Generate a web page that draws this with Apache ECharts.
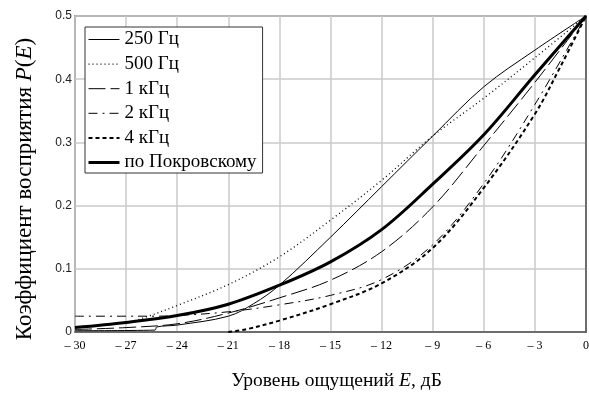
<!DOCTYPE html>
<html>
<head>
<meta charset="utf-8">
<script src="https://cdn.jsdelivr.net/npm/echarts@6/dist/echarts.min.js"></script>
<style>
  html, body { margin: 0; padding: 0; background: #fff; }
  #chart { width: 589px; height: 398px; }
</style>
</head>
<body>
<div id="chart"></div>
<script>
// values (E in dB, P(E))
const gridE = [-30, -27, -24, -21, -18, -15, -12, -9, -6, -3, 0];

const e250 = [-30, -25.3, -25.2, -24, -21, -19.5, -18, -15, -12, -9, -6, -3, 0];
const p250 = [0.002, 0.003, 0.008, 0.011, 0.025, 0.045, 0.074, 0.15, 0.23, 0.31, 0.388, 0.446, 0.5];

const e500 = [-30, -27, -25.8, -24, -21, -18, -15, -12, -9, -6, -3, 0];
const p500 = [0.008, 0.015, 0.024, 0.042, 0.075, 0.119, 0.177, 0.24, 0.31, 0.37, 0.434, 0.5];

const p1k = [0.004, 0.007, 0.013, 0.03, 0.054, 0.082, 0.127, 0.198, 0.295, 0.395, 0.5];

const e2k = [-30, -27, -25.5, -24, -21, -18, -15, -12, -9, -6, -3, 0];
const p2k = [0.025, 0.025, 0.025, 0.026, 0.032, 0.043, 0.058, 0.083, 0.138, 0.235, 0.36, 0.5];

const e4k = [-21, -20, -18, -15, -12, -9, -6, -3, -1.5, 0];
const p4k = [0, 0.004, 0.018, 0.044, 0.077, 0.133, 0.228, 0.345, 0.42, 0.5];

const pPokr = [0.007, 0.015, 0.026, 0.044, 0.074, 0.111, 0.162, 0.234, 0.312, 0.407, 0.5];

const names = ['250 Гц', '500 Гц', '1 кГц', '2 кГц', '4 кГц', 'по Покровскому'];
const widths = [1, 1.3, 1, 1, 2, 3];
const dashes = ['solid', [1, 3], [17, 5], [9, 5, 2, 5], [4, 3], 'solid'];

const serif = "'Liberation Serif', 'DejaVu Serif', serif";

const pairs = (xs, ys) => xs.map((x, i) => [x, ys[i]]);

const chart = echarts.init(document.getElementById('chart'));

const line = (i, data) => ({
  name: names[i],
  type: 'line',
  data,
  showSymbol: false,
  symbol: 'none',
  smooth: 0.35,
  lineStyle: { color: '#000', width: widths[i], type: dashes[i] },
  itemStyle: { color: '#000' },
  emphasis: { disabled: true },
  z: 3
});

chart.setOption({
  animation: false,
  grid: {
    left: 75,
    right: 3,
    top: 16,
    bottom: 66,
    show: true,
    borderColor: '#555',
    borderWidth: 1.5,
    outerBoundsMode: 'none'
  },
  legend: {
    orient: 'vertical',
    left: 85,
    top: 27,
    padding: [3, 6, 1, 2],
    itemWidth: 31,
    itemHeight: 14,
    itemGap: 5.6,
    backgroundColor: '#fff',
    borderColor: '#333',
    borderWidth: 1,
    borderRadius: 0,
    selectedMode: false,
    itemStyle: { opacity: 0 },
    textStyle: { fontFamily: serif, fontSize: 19, lineHeight: 19, color: '#000' },
    data: names.map((n, i) => ({
      name: n,
      lineStyle: { width: widths[i], type: dashes[i], color: '#000' }
    }))
  },
  xAxis: {
    type: 'value',
    min: -30,
    max: 0,
    interval: 3,
    name: 'Уровень ощущений {i|E}, дБ',
    nameLocation: 'middle',
    nameGap: 39,
    nameTextStyle: {
      fontFamily: serif, fontSize: 19.5, color: '#000',
      padding: [0, 0, 0, 12],
      rich: { i: { fontFamily: serif, fontSize: 19.5, fontStyle: 'italic', color: '#000' } }
    },
    axisLine: { show: true, lineStyle: { color: '#555', width: 1.5 } },
    axisTick: { show: false },
    axisLabel: {
      margin: 8,
      fontFamily: serif,
      fontSize: 12,
      color: '#000',
      formatter: v => (v < 0 ? '– ' + Math.abs(v) : '0')
    },
    splitLine: { show: true, lineStyle: { color: '#cacaca', width: 1.5 } }
  },
  yAxis: {
    type: 'value',
    min: 0,
    max: 0.5,
    interval: 0.1,
    axisLine: { show: true, lineStyle: { color: '#555', width: 1.5 } },
    axisTick: { show: false },
    axisLabel: {
      margin: 3,
      fontFamily: 'Liberation Sans',
      fontSize: 12,
      color: '#222',
      formatter: v => (v === 0 ? '0' : v.toFixed(1))
    },
    splitLine: { show: true, lineStyle: { color: '#cacaca', width: 1.5 } }
  },
  graphic: [
    {
      type: 'text',
      x: 25,
      y: 189,
      rotation: Math.PI / 2,
      style: {
        text: 'Коэффициент восприятия {i|P}({i|E})',
        fontFamily: serif,
        fontSize: 23,
        fill: '#000',
        align: 'center',
        verticalAlign: 'middle',
        rich: { i: { fontFamily: serif, fontSize: 23, fontStyle: 'italic', fill: '#000' } }
      }
    }
  ],
  series: [
    line(0, pairs(e250, p250)),
    line(1, pairs(e500, p500)),
    line(2, pairs(gridE, p1k)),
    line(3, pairs(e2k, p2k)),
    line(4, pairs(e4k, p4k)),
    line(5, pairs(gridE, pPokr))
  ]
});
</script>
</body>
</html>
